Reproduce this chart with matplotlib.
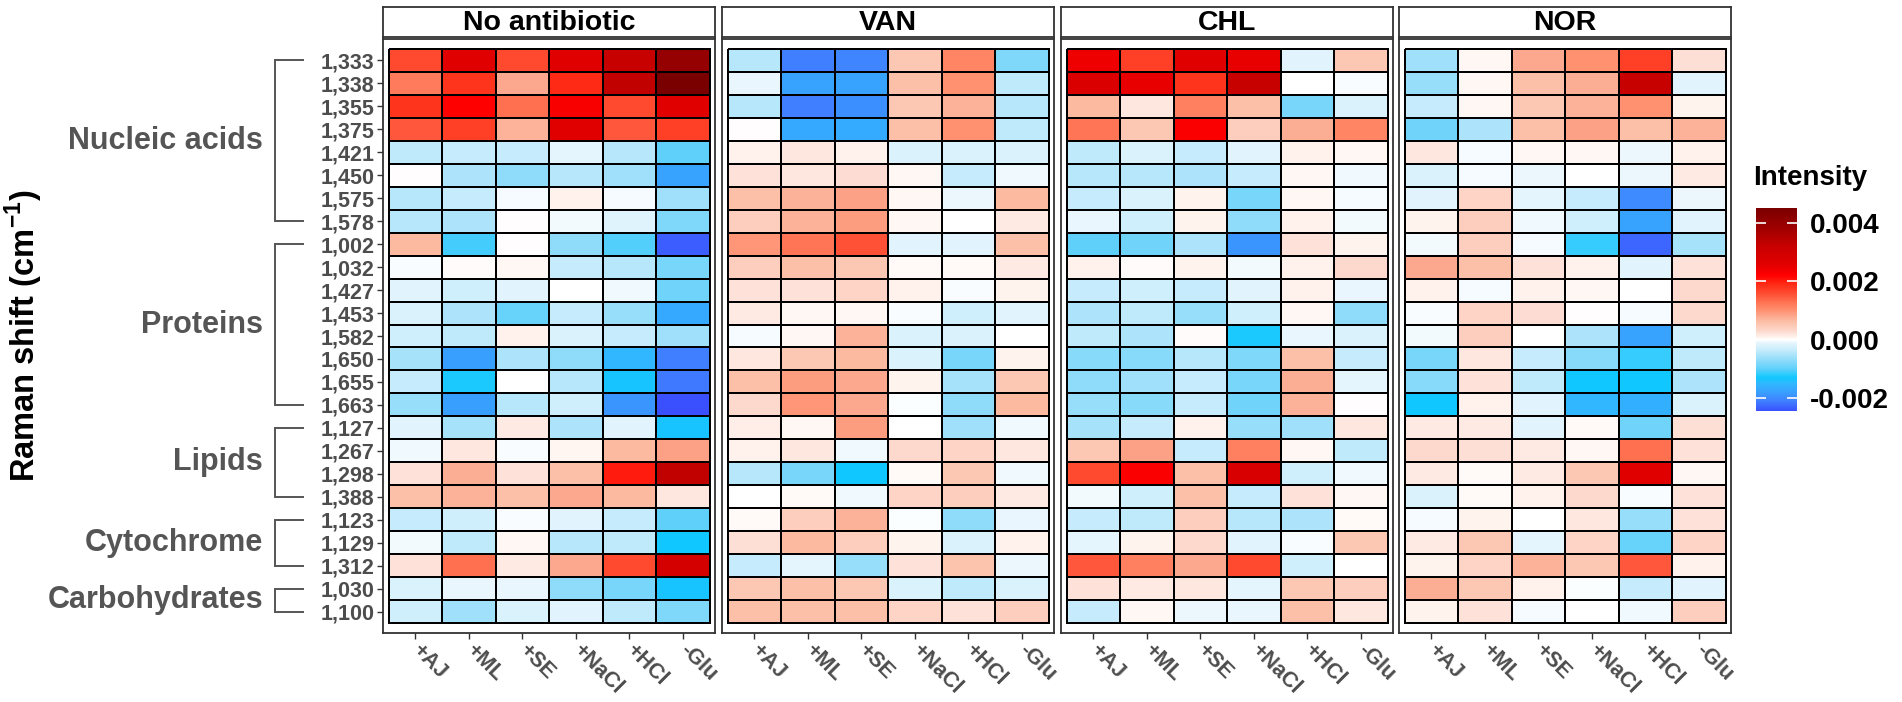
import numpy as np
import matplotlib
matplotlib.use("Agg")
import matplotlib.pyplot as plt
from matplotlib.colors import LinearSegmentedColormap, Normalize
from matplotlib.cm import ScalarMappable

plt.rcParams['font.family'] = ['Liberation Sans', 'DejaVu Sans']
plt.rcParams['axes.unicode_minus'] = False
plt.rcParams['mathtext.fontset'] = 'custom'
plt.rcParams['mathtext.rm'] = 'Liberation Sans:bold'
plt.rcParams['mathtext.bf'] = 'Liberation Sans:bold'

# ---------------- data ----------------
panels = ["No antibiotic", "VAN", "CHL", "NOR"]
conditions = ["+AJ", "+ML", "+SE", "+NaCl", "+HCl", "-Glu"]
shifts = ["1,333", "1,338", "1,355", "1,375", "1,421", "1,450", "1,575", "1,578",
          "1,002", "1,032", "1,427", "1,453", "1,582", "1,650", "1,655", "1,663",
          "1,127", "1,267", "1,298", "1,388",
          "1,123", "1,129", "1,312",
          "1,030", "1,100"]
group_names = ["Nucleic acids", "Proteins", "Lipids", "Cytochrome", "Carbohydrates"]
group_first = [0, 8, 16, 20, 23]
group_last = [7, 15, 19, 22, 24]

# intensity values (x 1e-3), rows = Raman shifts, cols = conditions
no_antibiotic = [
    [1.6, 2.6, 1.6, 2.6, 3.2, 4.0],
    [1.2, 1.8, 0.8, 1.9, 3.3, 4.5],
    [1.8, 2.2, 1.3, 2.3, 1.6, 2.6],
    [1.5, 1.7, 0.7, 2.6, 1.5, 1.7],
    [-0.4, -0.35, -0.35, -0.12, -0.45, -1.0],
    [0.02, -0.5, -0.7, -0.45, -0.6, -1.75],
    [-0.45, -0.35, -0.04, 0.1, -0.04, -0.6],
    [-0.45, -0.5, 0.02, -0.06, -0.16, -0.8],
    [0.65, -1.1, 0.02, -0.7, -1.05, -2.35],
    [-0.03, 0.03, 0.06, -0.35, -0.45, -0.85],
    [-0.15, -0.28, -0.15, 0.0, -0.07, -0.9],
    [-0.2, -0.5, -0.95, -0.35, -0.65, -1.7],
    [-0.28, -0.4, 0.1, -0.2, -0.35, -0.6],
    [-0.55, -1.8, -0.5, -0.7, -1.5, -2.1],
    [-0.35, -1.25, 0.0, -0.45, -1.35, -2.15],
    [-0.65, -1.8, -0.45, -0.28, -1.9, -2.45],
    [-0.15, -0.55, 0.15, -0.5, -0.15, -1.35],
    [-0.07, 0.18, -0.03, 0.07, 0.65, 0.85],
    [0.22, 0.75, 0.22, 0.6, 2.0, 3.3],
    [0.6, 0.72, 0.6, 0.8, 0.65, 0.18],
    [-0.35, -0.28, -0.03, -0.15, -0.35, -1.0],
    [-0.06, -0.4, 0.06, -0.45, -0.4, -1.3],
    [0.22, 1.3, 0.15, 0.8, 1.6, 2.9],
    [-0.2, -0.1, -0.09, -0.7, -0.85, -1.35],
    [-0.28, -0.6, -0.2, -0.15, -0.4, -0.8],
]
van = [
    [-0.45, -2.1, -2.05, 0.5, 1.1, -0.8],
    [-0.1, -1.75, -1.75, 0.6, 1.0, -0.4],
    [-0.45, -2.1, -1.95, 0.5, 0.72, -0.45],
    [0.02, -1.7, -1.65, 0.6, 1.0, -0.4],
    [0.1, 0.18, 0.1, -0.2, -0.2, -0.2],
    [0.22, 0.18, 0.26, 0.05, -0.35, -0.07],
    [0.6, 0.72, 0.85, 0.06, -0.08, 0.65],
    [0.42, 0.72, 0.9, 0.06, 0.0, 0.15],
    [0.95, 1.25, 1.55, -0.15, -0.15, 0.6],
    [0.42, 0.6, 0.5, 0.04, 0.04, 0.15],
    [0.22, 0.22, 0.35, 0.1, -0.03, 0.08],
    [0.15, 0.05, 0.06, -0.03, -0.28, -0.15],
    [-0.04, 0.06, 0.72, -0.2, -0.2, 0.0],
    [0.18, 0.5, 0.65, -0.2, -0.85, 0.08],
    [0.6, 0.9, 0.8, 0.08, -0.55, 0.5],
    [0.3, 0.95, 0.8, -0.02, -0.7, 0.65],
    [0.12, 0.06, 0.9, 0.0, -0.6, -0.07],
    [0.1, 0.18, -0.07, 0.3, 0.35, 0.18],
    [-0.45, -0.85, -1.3, 0.04, 0.5, -0.07],
    [0.0, 0.04, -0.07, 0.35, 0.42, 0.15],
    [0.04, 0.42, 0.72, -0.02, -0.7, -0.1],
    [0.25, 0.65, 0.42, 0.08, -0.2, 0.1],
    [-0.35, -0.12, -0.65, 0.22, 0.55, -0.08],
    [0.5, 0.6, 0.5, -0.2, -0.4, -0.2],
    [0.6, 0.6, 0.6, 0.35, 0.22, 0.42],
]
chl = [
    [2.4, 1.7, 2.6, 2.5, -0.15, 0.5],
    [2.75, 2.5, 1.8, 3.2, 0.0, -0.03],
    [0.65, 0.18, 1.15, 0.6, -0.85, -0.2],
    [1.25, 0.5, 2.25, 0.42, 0.75, 1.1],
    [-0.4, -0.2, -0.35, -0.15, 0.1, 0.06],
    [-0.45, -0.45, -0.5, -0.35, 0.06, -0.07],
    [-0.35, -0.2, 0.08, -0.85, 0.06, -0.04],
    [-0.1, -0.28, 0.08, -0.7, 0.1, -0.06],
    [-1.0, -0.9, -0.5, -1.9, 0.22, 0.08],
    [0.1, 0.03, 0.08, -0.06, 0.1, 0.3],
    [-0.35, -0.28, -0.35, -0.15, 0.1, -0.1],
    [-0.5, -0.4, -0.65, -0.28, 0.06, -0.7],
    [-0.4, -0.5, 0.03, -1.25, -0.1, -0.2],
    [-0.75, -0.75, -0.45, -0.8, 0.6, -0.35],
    [-0.7, -0.6, -0.35, -0.85, 0.75, -0.12],
    [-0.65, -0.75, -0.35, -0.9, 0.72, 0.02],
    [-0.55, -0.35, 0.1, -0.65, -0.6, 0.18],
    [0.5, 0.85, -0.35, 1.15, 0.06, -0.4],
    [1.6, 2.25, 0.6, 2.8, -0.28, -0.07],
    [-0.06, -0.28, 0.6, -0.35, 0.22, 0.05],
    [-0.35, -0.4, 0.42, -0.45, -0.5, 0.04],
    [-0.12, 0.08, 0.3, -0.15, -0.03, 0.5],
    [1.5, 1.15, 0.8, 1.6, -0.28, 0.0],
    [0.22, 0.15, 0.18, -0.12, 0.5, 0.42],
    [-0.35, 0.05, -0.08, -0.1, 0.6, 0.18],
]
nor = [
    [-0.6, 0.06, 0.8, 1.0, 1.7, 0.25],
    [-0.65, 0.05, 0.6, 0.75, 3.2, -0.15],
    [-0.35, 0.06, 0.5, 0.72, 1.0, 0.08],
    [-0.9, -0.5, 0.6, 0.85, 0.6, 0.72],
    [0.18, -0.04, 0.06, 0.06, -0.08, 0.1],
    [-0.2, -0.04, -0.08, 0.0, -0.08, 0.15],
    [-0.15, 0.35, -0.12, -0.35, -2.0, -0.08],
    [0.08, 0.42, -0.07, -0.28, -1.75, -0.15],
    [-0.06, 0.42, -0.04, -1.15, -2.3, -0.55],
    [0.8, 0.6, 0.22, 0.1, -0.15, 0.22],
    [0.1, -0.04, 0.1, 0.05, 0.0, 0.3],
    [-0.03, 0.35, 0.26, 0.02, -0.04, 0.3],
    [-0.06, 0.42, 0.0, -0.5, -1.75, -0.28],
    [-0.85, 0.18, -0.35, -0.75, -1.15, -0.4],
    [-0.75, 0.22, -0.4, -1.3, -1.3, -0.5],
    [-1.3, 0.1, -0.15, -1.5, -1.6, -0.2],
    [0.15, 0.15, -0.15, 0.04, -0.9, 0.25],
    [0.3, 0.25, 0.15, 0.06, 1.3, 0.22],
    [0.15, 0.04, 0.15, 0.5, 2.6, 0.06],
    [-0.2, 0.04, 0.1, 0.3, -0.03, 0.22],
    [-0.04, 0.08, 0.0, 0.18, -0.65, 0.22],
    [0.15, 0.5, -0.12, 0.35, -0.95, 0.35],
    [0.08, 0.35, 0.72, 0.5, 1.5, 0.1],
    [0.75, 0.5, 0.1, -0.02, -0.35, -0.15],
    [0.08, 0.22, -0.04, 0.0, -0.07, 0.42],
]
panel_values = [no_antibiotic, van, chl, nor]
cbar_ticks = [-0.002, 0.0, 0.002, 0.004]

# ---------------- colour scale ----------------
scale_stops = [(-2.45, "#3a50ff"), (-2.1, "#4080ff"), (-1.8, "#38a0ff"), (-1.5, "#30b8ff"),
               (-1.3, "#10c8ff"), (-1.0, "#60d0fa"), (-0.6, "#a0e0fa"), (-0.3, "#cdeefc"),
               (-0.1, "#e8f6fd"), (0.0, "#ffffff"), (0.1, "#fff0ea"), (0.3, "#fdd8cc"),
               (0.6, "#fcc0a8"), (0.8, "#fca88e"), (1.0, "#ff9070"), (1.3, "#ff7050"),
               (1.6, "#ff4a30"), (1.9, "#ff2a15"), (2.2, "#ff0000"), (2.6, "#e00000"),
               (3.2, "#c80000"), (3.8, "#a00000"), (4.5, "#7a0000")]
lo, hi = scale_stops[0][0], scale_stops[-1][0]
cmap = LinearSegmentedColormap.from_list(
    "ramanscale", [((v - lo) / (hi - lo), c) for v, c in scale_stops], N=512)
norm = Normalize(vmin=lo * 1e-3, vmax=hi * 1e-3)

# ---------------- layout (pixel based) ----------------
W, H = 1902, 702
fig = plt.figure(figsize=(W / 100, H / 100), dpi=100)

def fx(x):
    return x / W

def fy(y):
    return 1 - y / H

panel_left = [383, 722, 1061, 1399]
panel_w = 332
panel_top, panel_bot = 39, 633
strip_top, strip_bot = 7, 37
cell_top, cell_bot = 49, 623
nrow, ncol = len(shifts), len(conditions)
row_h = (cell_bot - cell_top) / nrow
pad_x = 5.5 / ((panel_w - 11) / ncol)
pad_y = (cell_top - panel_top) / row_h

frame_col = "#333333"
tick_col = "#4d4d4d"

for i, (name, vals) in enumerate(zip(panels, panel_values)):
    L = panel_left[i]
    ax = fig.add_axes([fx(L), fy(panel_bot), panel_w / W, (panel_bot - panel_top) / H])
    data = np.array(vals, dtype=float) * 1e-3
    ax.pcolormesh(np.arange(-0.5, ncol), np.arange(-0.5, nrow), data,
                  cmap=cmap, norm=norm, edgecolors="black", linewidth=1.3)
    ax.set_xlim(-0.5 - pad_x, ncol - 0.5 + pad_x)
    ax.set_ylim(nrow - 0.5 + pad_y, -0.5 - pad_y)
    for s in ax.spines.values():
        s.set_color(frame_col)
        s.set_linewidth(1.3)
    ax.set_xticks(range(ncol))
    ax.set_xticklabels(conditions, fontsize=15.5, fontweight="bold", color=tick_col)
    for lab in ax.get_xticklabels():
        lab.set_rotation(-45)
        lab.set_ha("left")
        lab.set_va("center")
        lab.set_rotation_mode("anchor")
    ax.tick_params(axis="x", length=4, width=1, color=frame_col, pad=6)
    if i == 0:
        ax.set_yticks(range(nrow))
        ax.set_yticklabels(shifts, fontsize=15.5, fontweight="bold", color=tick_col)
        ax.tick_params(axis="y", length=4, width=1, color=frame_col, pad=2)
    else:
        ax.set_yticks([])

    sax = fig.add_axes([fx(L), fy(strip_bot), panel_w / W, (strip_bot - strip_top) / H])
    sax.set_xticks([])
    sax.set_yticks([])
    for s in sax.spines.values():
        s.set_color(frame_col)
        s.set_linewidth(1.3)
    sax.text(0.5, 0.45, name, ha="center", va="center", fontsize=20.5,
             fontweight="bold", color="black", transform=sax.transAxes)

# overlay for brackets, group labels and y title
ov = fig.add_axes([0, 0, 1, 1])
ov.set_xlim(0, W)
ov.set_ylim(H, 0)
ov.axis("off")
ov.patch.set_alpha(0)

def row_center(r):
    return cell_top + (r + 0.5) * row_h

bx0, bx1 = 275, 303
for gname, r0, r1 in zip(group_names, group_first, group_last):
    y0, y1 = row_center(r0), row_center(r1)
    ov.plot([bx1, bx0, bx0, bx1], [y0, y0, y1, y1], color="#555555", lw=1.4,
            solid_joinstyle="miter")
    ov.text(263, (y0 + y1) / 2, gname, ha="right", va="center", fontsize=22,
            fontweight="bold", color="#555555")

ov.text(24, (cell_top + cell_bot) / 2, "Raman shift (cm$^{-1}$)", rotation=90,
        ha="center", va="center", fontsize=23.5, fontweight="bold", color="black")

# colour bar
cb_top = 208
px_per_unit = 29.25  # pixels per 0.001
cb_bot = cb_top + (hi - lo) * px_per_unit
cax = fig.add_axes([fx(1756), fy(cb_bot), 41 / W, (cb_bot - cb_top) / H])
sm = ScalarMappable(norm=norm, cmap=cmap)
cb = fig.colorbar(sm, cax=cax)
cb.outline.set_visible(False)
cb.set_ticks(cbar_ticks)
cb.set_ticklabels([f"{t:.3f}" for t in cbar_ticks])
cax.tick_params(axis="y", direction="in", color="white", length=7, width=1.2,
                left=True, right=True, labelsize=20, pad=9)
for lab in cax.get_yticklabels():
    lab.set_fontweight("bold")
ov.text(1753, 185, "Intensity", ha="left", va="baseline", fontsize=20,
        fontweight="bold", color="black")

fig.savefig("out.png", dpi=100)
